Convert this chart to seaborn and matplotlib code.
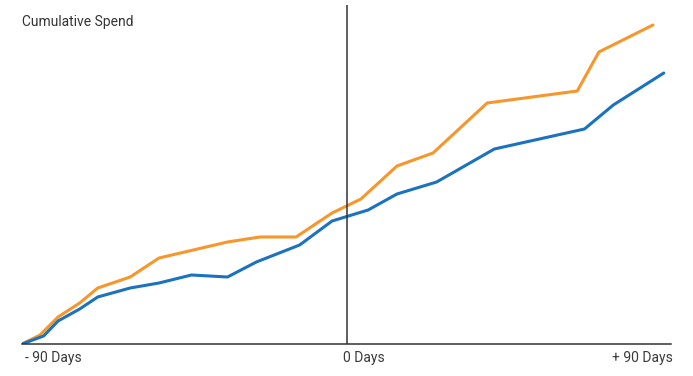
import matplotlib
matplotlib.use("Agg")
import matplotlib.pyplot as plt
import seaborn as sns
import pandas as pd

sns.set_theme(style="white")
plt.rcParams["font.family"] = ["Roboto", "DejaVu Sans"]

# Cumulative spend, 90 days either side of the event
blue_days = [-90, -84, -80, -74, -69, -60, -52, -43, -33, -25, -13, -4, 6, 14, 25, 41, 66, 74, 88]
blue_spend = [0, 8, 23, 35, 47, 56, 61, 69, 67, 82, 99, 123, 134, 150, 162, 195, 215, 239, 271]

orange_days = [-90, -85, -80, -74, -69, -60, -52, -33, -24, -14, -4, 4, 14, 24, 39, 64, 70, 85]
orange_spend = [0, 9, 27, 41, 56, 67, 86, 102, 107, 107, 131, 145, 178, 191, 241, 253, 292, 319]

tick_days = [-90, 0, 90]
tick_labels = ["- 90 Days", "0 Days", "+ 90 Days"]

df = pd.concat([
    pd.DataFrame({"day": blue_days, "spend": blue_spend, "series": "blue"}),
    pd.DataFrame({"day": orange_days, "spend": orange_spend, "series": "orange"}),
])

fig = plt.figure(figsize=(6.93, 3.76), dpi=100)
ax = fig.add_axes([22 / 693, 32 / 376, 649 / 693, 339 / 376])

sns.lineplot(data=df, x="day", y="spend", hue="series",
             palette={"blue": "#1b72bf", "orange": "#f7962b"},
             hue_order=["orange", "blue"],
             linewidth=2.2, legend=False, ax=ax, sort=False)

ax.set_xlim(-90, 90)
ax.set_ylim(0, 339)
ax.axvline(0, color="#333333", linewidth=1.1)

for s in ["top", "right", "left"]:
    ax.spines[s].set_visible(False)
ax.spines["bottom"].set_color("#333333")
ax.spines["bottom"].set_linewidth(1.1)

ax.set_yticks([])
ax.set_xticks([])
ax.set_xlabel("")
ax.set_ylabel("")

label_kw = dict(fontsize=10, color="#3a3a3a", transform=ax.get_xaxis_transform(), va="top")
ax.text(tick_days[0] + 0.8, -0.022, tick_labels[0], ha="left", **label_kw)
ax.text(tick_days[1] - 1, -0.022, tick_labels[1], ha="left", **label_kw)
ax.text(tick_days[2] + 0.5, -0.022, tick_labels[2], ha="right", **label_kw)

fig.text(22 / 693, 1 - 22 / 376, "Cumulative Spend", fontsize=10, color="#333333",
         ha="left", va="center")

fig.savefig("out.png", dpi=100, facecolor="white")
